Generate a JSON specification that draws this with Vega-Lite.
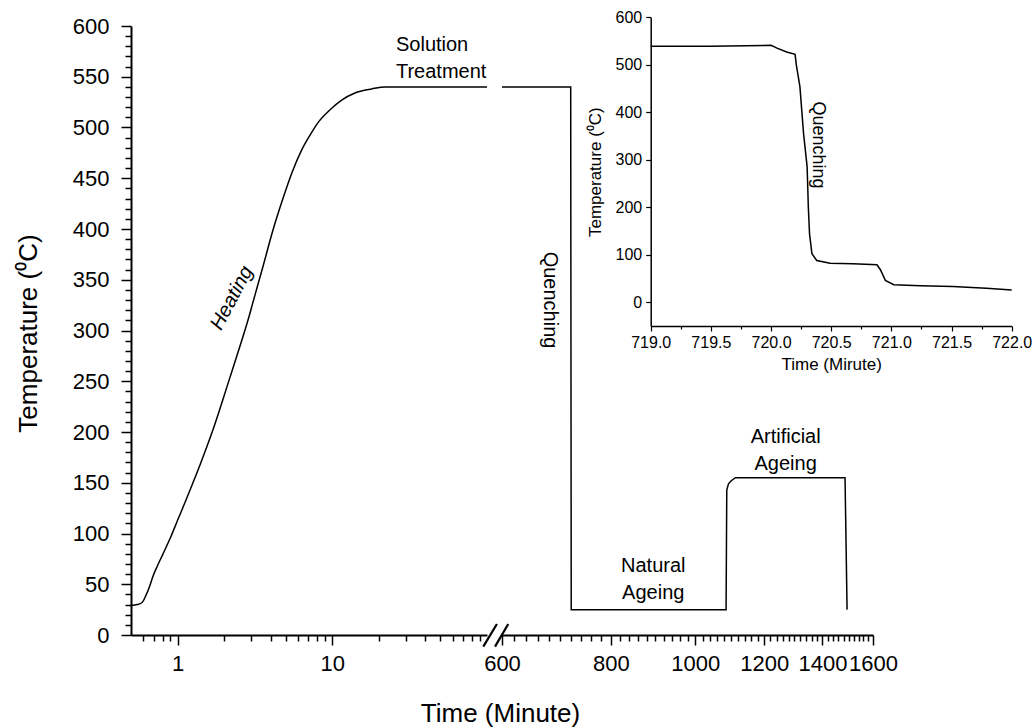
{
  "$schema": "https://vega.github.io/schema/vega-lite/v6.json",
  "width": 881,
  "height": 609,
  "autosize": {"type": "none"},
  "padding": {"left": 131, "top": 26, "right": 22, "bottom": 92},
  "background": "white",
  "config": {
    "view": {"stroke": null},
    "font": "Liberation Sans",
    "axis": {
      "grid": false,
      "labelFont": "Liberation Sans",
      "titleFont": "Liberation Sans",
      "labelColor": "black",
      "titleColor": "black",
      "domainColor": "black",
      "tickColor": "black",
      "titleFontWeight": "normal",
      "labelFlush": false,
      "labelOverlap": false,
      "labelBound": false
    },
    "text": {"font": "Liberation Sans", "color": "black"}
  },
  "datasets": {
    "heating": [
      {"t": 0.5, "T": 29}, {"t": 0.55, "T": 30}, {"t": 0.59, "T": 32}, {"t": 0.62, "T": 38},
      {"t": 0.66, "T": 48}, {"t": 0.69, "T": 57}, {"t": 0.74, "T": 68}, {"t": 0.8, "T": 79},
      {"t": 0.9, "T": 96}, {"t": 1.0, "T": 113}, {"t": 1.12, "T": 131}, {"t": 1.25, "T": 149},
      {"t": 1.4, "T": 168}, {"t": 1.55, "T": 186}, {"t": 1.7, "T": 203}, {"t": 1.87, "T": 222},
      {"t": 2.05, "T": 241}, {"t": 2.27, "T": 262}, {"t": 2.5, "T": 282}, {"t": 2.71, "T": 299},
      {"t": 2.9, "T": 314}, {"t": 3.06, "T": 327}, {"t": 3.55, "T": 362}, {"t": 4.12, "T": 398},
      {"t": 4.75, "T": 428}, {"t": 5.5, "T": 456}, {"t": 6.3, "T": 477}, {"t": 7.15, "T": 492},
      {"t": 8.2, "T": 506}, {"t": 9.6, "T": 517}, {"t": 11.5, "T": 527}, {"t": 14, "T": 534},
      {"t": 18, "T": 538}, {"t": 22, "T": 540}, {"t": 40, "T": 540}, {"t": 100, "T": 540}
    ],
    "ageing": [
      {"t": 600, "T": 540}, {"t": 719.5, "T": 540}, {"t": 720.5, "T": 25}, {"t": 1085, "T": 25},
      {"t": 1087, "T": 143}, {"t": 1092, "T": 149}, {"t": 1100, "T": 152}, {"t": 1112, "T": 155},
      {"t": 1486, "T": 155}, {"t": 1494, "T": 25}
    ],
    "quench": [
      {"t": 719.0, "T": 539}, {"t": 719.5, "T": 539}, {"t": 720.0, "T": 541}, {"t": 720.05, "T": 535},
      {"t": 720.13, "T": 527}, {"t": 720.2, "T": 522}, {"t": 720.21, "T": 500}, {"t": 720.24, "T": 454},
      {"t": 720.27, "T": 356}, {"t": 720.3, "T": 285}, {"t": 720.31, "T": 200}, {"t": 720.32, "T": 144},
      {"t": 720.34, "T": 102}, {"t": 720.38, "T": 88}, {"t": 720.49, "T": 82}, {"t": 720.68, "T": 81},
      {"t": 720.88, "T": 79}, {"t": 720.91, "T": 68}, {"t": 720.95, "T": 46}, {"t": 721.02, "T": 37},
      {"t": 721.24, "T": 35}, {"t": 721.51, "T": 33}, {"t": 721.79, "T": 29.5}, {"t": 722.0, "T": 26}
    ],
    "notes_left": [
      {"label": "Solution", "t": 25.8, "T": 581},
      {"label": "Treatment", "t": 25.8, "T": 555}
    ],
    "notes_heating": [{"label": "Heating", "t": 2.24, "T": 332}],
    "notes_right": [
      {"label": "Natural", "t": 895, "T": 68},
      {"label": "Ageing", "t": 895, "T": 41.4},
      {"label": "Artificial", "t": 1270, "T": 195},
      {"label": "Ageing", "t": 1270, "T": 168.5}
    ],
    "notes_quench": [{"label": "Quenching", "t": 681, "T": 330}],
    "notes_inset": [{"label": "Quenching", "t": 720.39, "T": 331}],
    "axis_break": [
      {"t": 571, "T": -11.5, "t2": 592, "T2": 10.8},
      {"t": 589, "T": -11.5, "t2": 610, "T2": 10.8}
    ]
  },
  "resolve": {
    "scale": {"x": "independent", "y": "independent"},
    "axis": {"x": "independent", "y": "independent"}
  },
  "layer": [
    {
      "data": {"name": "heating"},
      "mark": {"type": "line", "color": "black", "strokeWidth": 1.5, "interpolate": "monotone"},
      "encoding": {
        "x": {
          "field": "t", "type": "quantitative",
          "scale": {"type": "log", "domain": [0.5, 100], "range": [0, 356], "nice": false},
          "axis": {"orient": "bottom", "values": [1, 10], "format": "~g", "tickSize": 10, "tickWidth": 1.5,
                   "domainWidth": 2, "labelFontSize": 22, "labelPadding": 8, "title": null}
        },
        "y": {
          "field": "T", "type": "quantitative",
          "scale": {"domain": [0, 600], "range": [609, 0], "nice": false, "zero": false},
          "axis": {"orient": "left", "values": [0, 50, 100, 150, 200, 250, 300, 350, 400, 450, 500, 550, 600],
                   "format": "d", "tickSize": 10, "tickWidth": 1.5, "domainWidth": 2, "labelFontSize": 22,
                   "labelPadding": 12, "title": "Temperature (⁰C)", "titleFontSize": 26,
                   "titleX": -103, "titleY": 307, "titleAlign": "center", "titleBaseline": "middle", "titleAngle": -90}
        }
      }
    },
    {
      "data": {"name": "heating"},
      "mark": {"type": "point", "opacity": 0},
      "encoding": {
        "x": {
          "field": "t", "type": "quantitative",
          "scale": {"type": "log", "domain": [0.5, 100], "range": [0, 356], "nice": false},
          "axis": {"orient": "bottom", "values": [0.6, 0.7, 0.8, 0.9, 2, 3, 4, 5, 6, 7, 8, 9, 20, 30, 40, 50, 60, 70, 80, 90],
                   "tickSize": 6, "tickWidth": 1.5, "labels": false, "domain": false, "title": null}
        },
        "y": {
          "field": "T", "type": "quantitative",
          "scale": {"domain": [0, 600], "range": [609, 0], "nice": false, "zero": false},
          "axis": {"orient": "left",
                   "values": [10, 20, 30, 40, 60, 70, 80, 90, 110, 120, 130, 140, 160, 170, 180, 190, 210, 220, 230, 240,
                              260, 270, 280, 290, 310, 320, 330, 340, 360, 370, 380, 390, 410, 420, 430, 440, 460, 470,
                              480, 490, 510, 520, 530, 540, 560, 570, 580, 590],
                   "tickSize": 6, "tickWidth": 1.5, "labels": false, "domain": false, "title": null}
        }
      }
    },
    {
      "data": {"name": "ageing"},
      "mark": {"type": "line", "color": "black", "strokeWidth": 1.5},
      "encoding": {
        "x": {
          "field": "t", "type": "quantitative",
          "scale": {"type": "log", "domain": [600, 1600], "range": [371, 742], "nice": false},
          "axis": {"orient": "bottom", "values": [600, 800, 1000, 1200, 1400, 1600], "format": "d", "tickSize": 10,
                   "tickWidth": 1.5, "domainWidth": 2, "labelFontSize": 22, "labelPadding": 8,
                   "title": "Time (Minute)", "titleFontSize": 26, "titleX": 369, "titleY": 78,
                   "titleAlign": "center", "titleBaseline": "middle"}
        },
        "y": {
          "field": "T", "type": "quantitative",
          "scale": {"domain": [0, 600], "range": [609, 0], "nice": false, "zero": false},
          "axis": null
        }
      }
    },
    {
      "data": {"name": "ageing"},
      "mark": {"type": "point", "opacity": 0},
      "encoding": {
        "x": {
          "field": "t", "type": "quantitative",
          "scale": {"type": "log", "domain": [600, 1600], "range": [371, 742], "nice": false},
          "axis": {"orient": "bottom",
                   "values": [620, 640, 660, 680, 700, 720, 740, 760, 780, 820, 840, 860, 880, 900, 920, 940, 960, 980,
                              1020, 1040, 1060, 1080, 1100, 1120, 1140, 1160, 1180, 1220, 1240, 1260, 1280, 1300, 1320,
                              1340, 1360, 1380, 1420, 1440, 1460, 1480, 1500, 1520, 1540, 1560, 1580],
                   "tickSize": 6, "tickWidth": 1.5, "labels": false, "domain": false, "title": null}
        },
        "y": {
          "field": "T", "type": "quantitative",
          "scale": {"domain": [0, 600], "range": [609, 0], "nice": false, "zero": false},
          "axis": null
        }
      }
    },
    {
      "data": {"name": "quench"},
      "mark": {"type": "line", "color": "black", "strokeWidth": 1.5},
      "encoding": {
        "x": {
          "field": "t", "type": "quantitative",
          "scale": {"domain": [719, 722], "range": [519.7, 880.7], "nice": false, "zero": false},
          "axis": {"orient": "bottom", "offset": -309, "values": [719, 719.5, 720, 720.5, 721, 721.5, 722],
                   "format": ".1f", "tickSize": 5, "tickWidth": 1.2, "domainWidth": 1.5, "labelFontSize": 16,
                   "labelPadding": 3, "title": "Time (Mirute)", "titleFontSize": 17, "titlePadding": 6}
        },
        "y": {
          "field": "T", "type": "quantitative",
          "scale": {"domain": [-50, 600], "range": [300, -8.7], "nice": false, "zero": false},
          "axis": {"orient": "left", "offset": -519.7, "values": [0, 100, 200, 300, 400, 500, 600], "format": "d",
                   "tickSize": 5, "tickWidth": 1.2, "domainWidth": 1.5, "labelFontSize": 16, "labelPadding": 4,
                   "title": "Temperature (⁰C)", "titleFontSize": 17, "titlePadding": 11}
        }
      }
    },
    {
      "data": {"name": "quench"},
      "mark": {"type": "point", "opacity": 0},
      "encoding": {
        "x": {
          "field": "t", "type": "quantitative",
          "scale": {"domain": [719, 722], "range": [519.7, 880.7], "nice": false, "zero": false},
          "axis": {"orient": "bottom", "offset": -309, "values": [719.25, 719.75, 720.25, 720.75, 721.25, 721.75],
                   "tickSize": 3, "tickWidth": 1.2, "labels": false, "domain": false, "title": null}
        },
        "y": {
          "field": "T", "type": "quantitative",
          "scale": {"domain": [-50, 600], "range": [300, -8.7], "nice": false, "zero": false},
          "axis": null
        }
      }
    },
    {
      "data": {"name": "notes_left"},
      "mark": {"type": "text", "fontSize": 20, "align": "left", "baseline": "middle"},
      "encoding": {
        "x": {"field": "t", "type": "quantitative",
              "scale": {"type": "log", "domain": [0.5, 100], "range": [0, 356], "nice": false}, "axis": null},
        "y": {"field": "T", "type": "quantitative",
              "scale": {"domain": [0, 600], "range": [609, 0], "nice": false, "zero": false}, "axis": null},
        "text": {"field": "label"}
      }
    },
    {
      "data": {"name": "notes_heating"},
      "mark": {"type": "text", "fontSize": 20, "fontStyle": "italic", "angle": -62, "align": "center", "baseline": "middle"},
      "encoding": {
        "x": {"field": "t", "type": "quantitative",
              "scale": {"type": "log", "domain": [0.5, 100], "range": [0, 356], "nice": false}, "axis": null},
        "y": {"field": "T", "type": "quantitative",
              "scale": {"domain": [0, 600], "range": [609, 0], "nice": false, "zero": false}, "axis": null},
        "text": {"field": "label"}
      }
    },
    {
      "data": {"name": "notes_right"},
      "mark": {"type": "text", "fontSize": 20, "align": "center", "baseline": "middle"},
      "encoding": {
        "x": {"field": "t", "type": "quantitative",
              "scale": {"type": "log", "domain": [600, 1600], "range": [371, 742], "nice": false}, "axis": null},
        "y": {"field": "T", "type": "quantitative",
              "scale": {"domain": [0, 600], "range": [609, 0], "nice": false, "zero": false}, "axis": null},
        "text": {"field": "label"}
      }
    },
    {
      "data": {"name": "notes_quench"},
      "mark": {"type": "text", "fontSize": 20, "angle": 90, "align": "center", "baseline": "middle"},
      "encoding": {
        "x": {"field": "t", "type": "quantitative",
              "scale": {"type": "log", "domain": [600, 1600], "range": [371, 742], "nice": false}, "axis": null},
        "y": {"field": "T", "type": "quantitative",
              "scale": {"domain": [0, 600], "range": [609, 0], "nice": false, "zero": false}, "axis": null},
        "text": {"field": "label"}
      }
    },
    {
      "data": {"name": "notes_inset"},
      "mark": {"type": "text", "fontSize": 18, "angle": 90, "align": "center", "baseline": "middle"},
      "encoding": {
        "x": {"field": "t", "type": "quantitative",
              "scale": {"domain": [719, 722], "range": [519.7, 880.7], "nice": false, "zero": false}, "axis": null},
        "y": {"field": "T", "type": "quantitative",
              "scale": {"domain": [-50, 600], "range": [300, -8.7], "nice": false, "zero": false}, "axis": null},
        "text": {"field": "label"}
      }
    },
    {
      "data": {"name": "axis_break"},
      "mark": {"type": "rule", "color": "black", "strokeWidth": 2.2},
      "encoding": {
        "x": {"field": "t", "type": "quantitative",
              "scale": {"type": "log", "domain": [600, 1600], "range": [371, 742], "nice": false}, "axis": null},
        "y": {"field": "T", "type": "quantitative",
              "scale": {"domain": [0, 600], "range": [609, 0], "nice": false, "zero": false}, "axis": null},
        "x2": {"field": "t2"},
        "y2": {"field": "T2"}
      }
    }
  ]
}
